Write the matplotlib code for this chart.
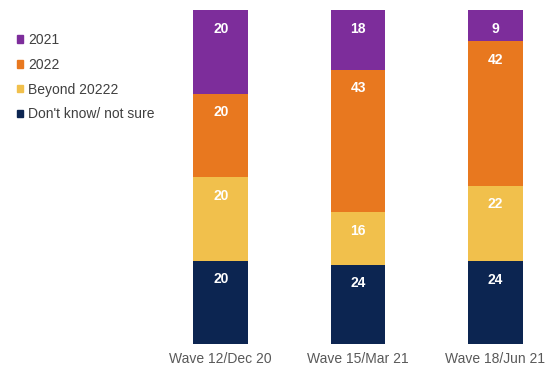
import numpy as np
import matplotlib.pyplot as plt
from matplotlib.patches import Patch

plt.rcParams['font.family'] = ['Liberation Sans', 'DejaVu Sans']

waves = ['Wave 12/Dec 20', 'Wave 15/Mar 21', 'Wave 18/Jun 21']
series = ["Don't know/ not sure", 'Beyond 20222', '2022', '2021']
dont_know = [20, 24, 24]
beyond = [20, 16, 22]
y2022 = [20, 43, 42]
y2021 = [20, 18, 9]
colors = ['#0c2551', '#f1c04c', '#e8781f', '#7d2d9b']

values = np.array([dont_know, beyond, y2022, y2021], dtype=float)
shares = values / values.sum(axis=0)

fig = plt.figure(figsize=(5.47, 3.71), dpi=100)
ax = fig.add_axes([0.278, 0.0728, 0.753, 0.900])

x = np.arange(len(waves))
bottom = np.zeros(len(waves))
for vals, share, col in zip(values, shares, colors):
    ax.bar(x, share, width=0.40, bottom=bottom, color=col)
    for xi, v, top in zip(x, vals, bottom + share):
        ax.annotate(f'{v:.0f}', (xi, top), xytext=(0, -13.5), textcoords='offset points',
                    ha='center', va='center', color='white', fontsize=10, fontweight='bold')
    bottom += share

ax.set_xlim(-0.5, 2.5)
ax.set_ylim(0, 1)
ax.set_xticks(x)
ax.set_xticklabels(waves, fontsize=10, color='#595959')
ax.tick_params(axis='x', length=0, pad=6)
ax.set_yticks([])
for s in ax.spines.values():
    s.set_visible(False)

handles = [Patch(color=c, label=s) for s, c in zip(series, colors)][::-1]
fig.legend(handles=handles, loc='upper left', bbox_to_anchor=(0.008, 0.945), frameon=False,
           fontsize=10, handlelength=0.45, handleheight=0.45, handletextpad=0.35,
           labelspacing=0.78, labelcolor='#404040')

fig.savefig('out.png', dpi=100)
